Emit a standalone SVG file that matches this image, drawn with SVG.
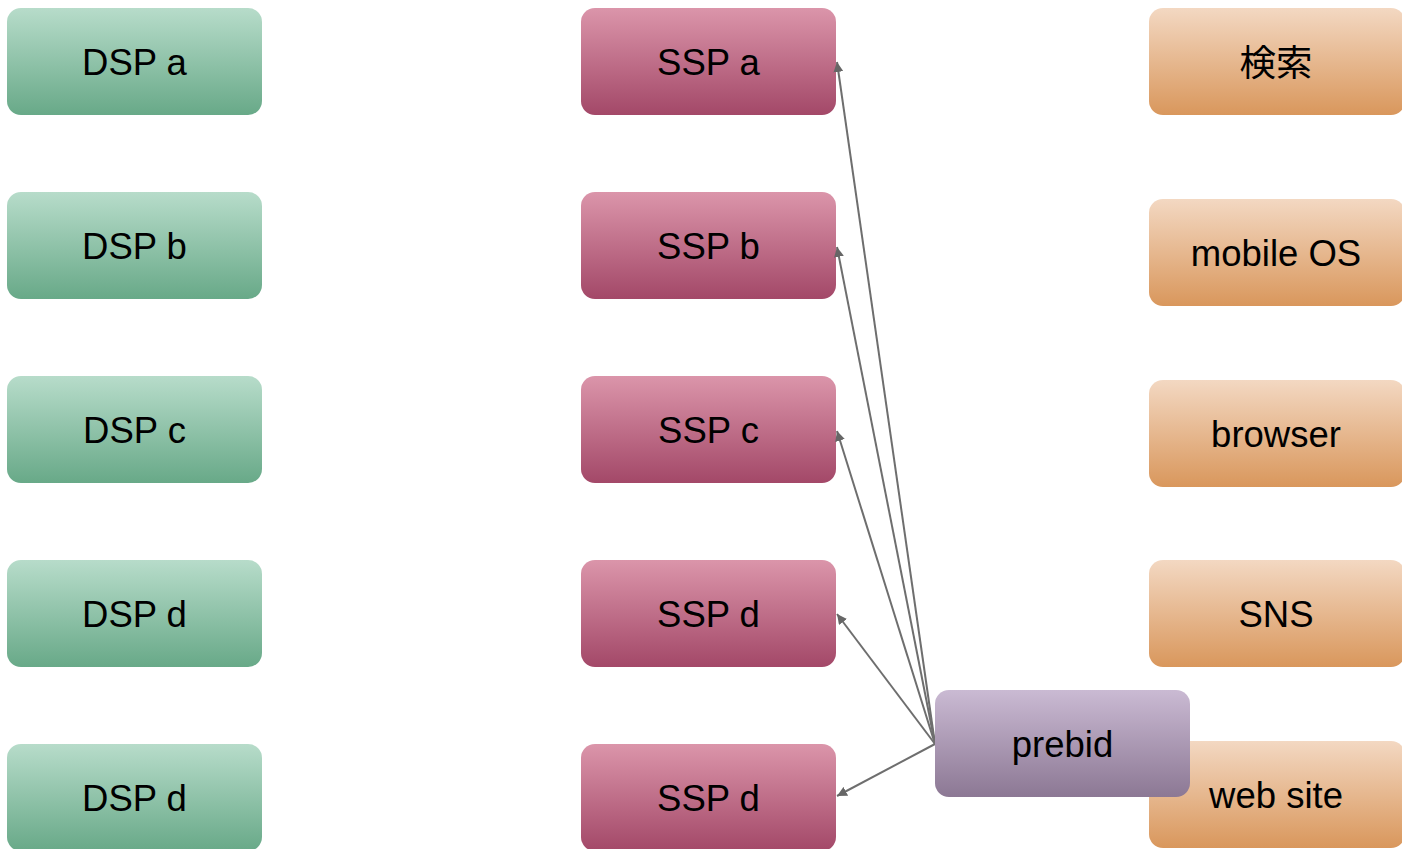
<svg xmlns="http://www.w3.org/2000/svg" width="1402" height="849" viewBox="0 0 1402 849">
<defs>
<linearGradient id="gG" x1="0" y1="0" x2="0" y2="1"><stop offset="0" stop-color="#b7dcca"/><stop offset="1" stop-color="#68a988"/></linearGradient>
<linearGradient id="gR" x1="0" y1="0" x2="0" y2="1"><stop offset="0" stop-color="#db95aa"/><stop offset="1" stop-color="#a34868"/></linearGradient>
<linearGradient id="gO" x1="0" y1="0" x2="0" y2="1"><stop offset="0" stop-color="#f3d8c2"/><stop offset="1" stop-color="#d9975c"/></linearGradient>
<linearGradient id="gP" x1="0" y1="0" x2="0" y2="1"><stop offset="0" stop-color="#cabad3"/><stop offset="1" stop-color="#8c7894"/></linearGradient>
<marker id="arr" viewBox="0 0 10 10" refX="10" refY="5" markerWidth="10" markerHeight="10" markerUnits="userSpaceOnUse" orient="auto"><path d="M0,0 L10,5 L0,10 z" fill="#666"/></marker>
</defs>
<style>
text{font-family:"Liberation Sans",Arial,"Noto Sans CJK JP",sans-serif;font-size:36.5px;fill:#000;text-anchor:middle}
.c{stroke:#6e6e6e;stroke-width:2;fill:none;marker-end:url(#arr)}
</style>
<g id="dsp-a"><rect x="7" y="8" width="255" height="107" rx="14" fill="url(#gG)"/><text x="134.500" y="75">DSP a</text></g>
<g id="dsp-b"><rect x="7" y="192" width="255" height="107" rx="14" fill="url(#gG)"/><text x="134.500" y="259">DSP b</text></g>
<g id="dsp-c"><rect x="7" y="376" width="255" height="107" rx="14" fill="url(#gG)"/><text x="134.500" y="443">DSP c</text></g>
<g id="dsp-d1"><rect x="7" y="560" width="255" height="107" rx="14" fill="url(#gG)"/><text x="134.500" y="627">DSP d</text></g>
<g id="dsp-d2"><rect x="7" y="744" width="255" height="107" rx="14" fill="url(#gG)"/><text x="134.500" y="811">DSP d</text></g>
<g id="ssp-a"><rect x="581" y="8" width="255" height="107" rx="14" fill="url(#gR)"/><text x="708.500" y="75">SSP a</text></g>
<g id="ssp-b"><rect x="581" y="192" width="255" height="107" rx="14" fill="url(#gR)"/><text x="708.500" y="259">SSP b</text></g>
<g id="ssp-c"><rect x="581" y="376" width="255" height="107" rx="14" fill="url(#gR)"/><text x="708.500" y="443">SSP c</text></g>
<g id="ssp-d1"><rect x="581" y="560" width="255" height="107" rx="14" fill="url(#gR)"/><text x="708.500" y="627">SSP d</text></g>
<g id="ssp-d2"><rect x="581" y="744" width="255" height="107" rx="14" fill="url(#gR)"/><text x="708.500" y="811">SSP d</text></g>
<g id="search"><rect x="1149" y="8" width="256" height="107" rx="14" fill="url(#gO)"/><text x="1276" y="76">検索</text></g>
<g id="mobile-os"><rect x="1149" y="199" width="256" height="107" rx="14" fill="url(#gO)"/><text x="1276" y="266">mobile OS</text></g>
<g id="browser"><rect x="1149" y="380" width="256" height="107" rx="14" fill="url(#gO)"/><text x="1276" y="447">browser</text></g>
<g id="sns"><rect x="1149" y="560" width="256" height="107" rx="14" fill="url(#gO)"/><text x="1276" y="627">SNS</text></g>
<g id="web-site"><rect x="1149" y="741" width="256" height="107" rx="14" fill="url(#gO)"/><text x="1276" y="808">web site</text></g>
<g id="connectors">
<line class="c" x1="935" y1="744" x2="837" y2="62"/>
<line class="c" x1="935" y1="744" x2="837" y2="247"/>
<line class="c" x1="935" y1="744" x2="837" y2="431"/>
<line class="c" x1="935" y1="744" x2="837" y2="614"/>
<line class="c" x1="935" y1="744" x2="837" y2="796"/>
</g>
<g id="prebid"><rect x="935" y="690" width="255" height="107" rx="14" fill="url(#gP)"/><text x="1062.500" y="757">prebid</text></g>
</svg>
